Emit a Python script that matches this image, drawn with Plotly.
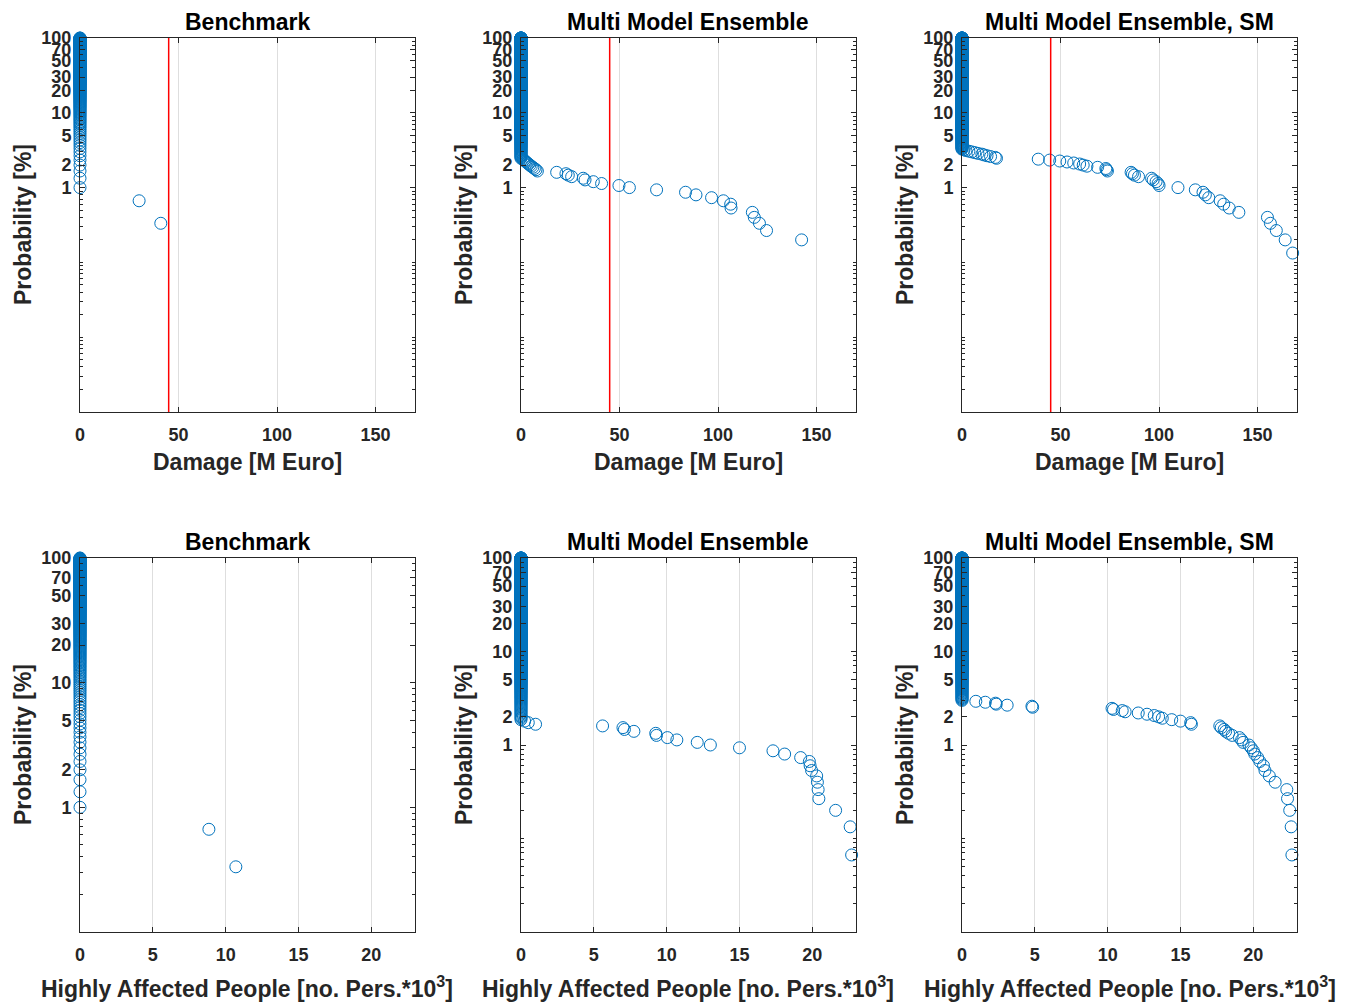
import plotly.graph_objects as go

FONT = "Liberation Sans, Arial, sans-serif"
BLUE = "#0072BD"
AXC = "#262626"
W, H = 1351, 1002

# ---- data -----------------------------------------------------------------
# number of simulated events per panel; exceedance probability = rank / N * 100
n_benchmark = 300
n_ensemble = 1500

# largest event values (descending); all other events are ~0
dmg_benchmark = [41.0, 30.0]
dmg_mme = [142.4, 124.6, 121.0, 118.4, 117.4, 106.6, 106.4, 102.7, 96.7, 88.8,
           83.5, 68.8, 55.0, 49.7, 40.9, 36.7, 32.5, 31.6, 25.7, 24.0, 22.8,
           18.1, 8.3, 7.6, 6.8, 6.0, 5.2, 4.5, 3.8, 3.2, 2.6, 2.0, 1.5, 1.0]
dmg_mme_sm = [167.8, 164.0, 159.5, 156.5, 155.0, 140.5, 135.6, 132.8, 131.0,
              125.2, 123.5, 122.3, 118.4, 109.6, 100.0, 99.5, 98.5, 97.0, 96.2,
              89.6, 87.5, 86.5, 85.8, 73.8, 73.4, 73.0, 68.8, 63.4, 61.5, 59.7,
              56.7, 53.3, 49.6, 44.5, 38.7, 17.5, 16.9, 14.5, 12.7, 11.2, 10.1,
              8.1, 6.5, 5.0, 3.5, 2.0, 1.0]
hap_benchmark = [10.7, 8.85]
hap_mme = [22.7, 22.6, 21.6, 20.45, 20.4, 20.35, 20.3, 19.95, 19.85, 19.8, 19.2,
           18.1, 17.3, 15.0, 13.0, 12.1, 10.7, 10.05, 9.3, 9.25, 7.75, 7.1, 7.0,
           5.6, 1.0, 0.5, 0.25]
hap_mme_sm = [22.65, 22.6, 22.5, 22.35, 22.3, 21.5, 21.1, 20.8, 20.7, 20.45,
              20.3, 20.1, 20.0, 19.85, 19.7, 19.3, 19.2, 19.05, 18.55, 18.3,
              18.1, 18.0, 17.8, 17.7, 15.75, 15.7, 15.0, 14.4, 13.75, 13.5,
              13.2, 12.7, 12.1, 11.2, 11.0, 10.4, 10.3, 4.85, 4.8, 3.1, 2.35,
              2.3, 1.6, 0.95]
# events larger than the x-axis limit (not visible, but they occupy ranks)
offscale_dmg = [0, 2, 1]
offscale_hap = [0, 0, 0]

titles = ["Benchmark", "Multi Model Ensemble", "Multi Model Ensemble, SM"]
damage_threshold = 45
y_tickvals = [1, 2, 5, 10, 20, 30, 50, 70, 100]
y_ticktext = ["1", "2", "5", "10", "20", "30", "50", "70", "100"]
xlabel_top = "Damage [M Euro]"
xlabel_bot = "Highly Affected People [no. Pers.*10<sup>3</sup>]"
ylabel = "Probability [%]"

# ---- layout geometry (pixels) -----------------------------------------------
col_px = [(80, 415), (521, 856), (962, 1297)]
row_px = [(38, 412), (558, 932)]

def px_x(v):
    return v / W

def px_y(v):
    return 1 - v / H

fig = go.Figure()

panels = []
for c in range(3):
    panels.append(dict(row=0, col=c, vals=[dmg_benchmark, dmg_mme, dmg_mme_sm][c],
                       n=[n_benchmark, n_ensemble, n_ensemble][c], off=offscale_dmg[c],
                       xr=[0, 170], xd=50, ylo=-3))
for c in range(3):
    panels.append(dict(row=1, col=c, vals=[hap_benchmark, hap_mme, hap_mme_sm][c],
                       n=[n_benchmark, n_ensemble, n_ensemble][c], off=offscale_hap[c],
                       xr=[0, 23], xd=5, ylo=[-1, -2, -2][c]))

layout = {}
annotations = []
shapes = []
for i, p in enumerate(panels):
    k = i + 1
    sfx = "" if k == 1 else str(k)
    xs = list(p["vals"]) + [0.0] * (p["n"] - p["off"] - len(p["vals"]))
    probs = [100.0 * (p["off"] + j + 1) / p["n"] for j in range(len(xs))]
    fig.add_trace(go.Scatter(
        x=xs, y=probs, mode="markers", xaxis=f"x{sfx}", yaxis=f"y{sfx}",
        marker=dict(symbol="circle-open", size=12, color=BLUE,
                    line=dict(width=1, color=BLUE)),
        cliponaxis=False, showlegend=False, hoverinfo="skip"))

    x0, x1 = col_px[p["col"]]
    y0, y1 = row_px[p["row"]]
    minor_vals = []
    for e in range(p["ylo"], 2):
        for m in range(1, 10):
            v = round(m * 10 ** e, 6)
            if v not in y_tickvals:
                minor_vals.append(v)
    tickfont = dict(family=FONT, size=18, color=AXC, weight="bold")
    layout[f"xaxis{sfx}"] = dict(
        domain=[px_x(x0), px_x(x1)], anchor=f"y{sfx}", range=p["xr"],
        tickmode="linear", tick0=0, dtick=p["xd"], showgrid=True,
        gridcolor="#dedede", gridwidth=1, zeroline=False, showline=True,
        linecolor=AXC, linewidth=1, mirror="allticks", ticks="inside",
        ticklen=5, tickcolor=AXC, tickfont=tickfont, ticklabelstandoff=6,
        automargin=False)
    layout[f"yaxis{sfx}"] = dict(
        domain=[px_y(y1), px_y(y0)], anchor=f"x{sfx}", type="log",
        range=[p["ylo"], 2.0000001], tickmode="array", tickvals=y_tickvals,
        ticktext=y_ticktext, showgrid=False, zeroline=False, showline=True,
        linecolor=AXC, linewidth=1, mirror="allticks", ticks="inside",
        ticklen=5, tickcolor=AXC, tickfont=tickfont, ticklabelstandoff=4,
        automargin=False,
        minor=dict(tickmode="array", tickvals=minor_vals, ticks="inside",
                   ticklen=3, tickcolor=AXC, showgrid=False))

    cx = (x0 + x1) / 2
    annotations.append(dict(
        text=f"<b>{titles[p['col']]}</b>", xref="paper", yref="paper",
        x=px_x(cx), y=px_y(y0 - 16), xanchor="center", yanchor="middle",
        showarrow=False, font=dict(family=FONT, size=23, color="#000000")))
    annotations.append(dict(
        text=f"<b>{xlabel_top if p['row'] == 0 else xlabel_bot}</b>",
        xref="paper", yref="paper", x=px_x(cx),
        y=px_y(y1 + (50 if p['row'] == 0 else 55)), xanchor="center",
        yanchor="middle", showarrow=False,
        font=dict(family=FONT, size=23, color=AXC)))
    annotations.append(dict(
        text=f"<b>{ylabel}</b>", xref="paper", yref="paper",
        x=px_x(x0 - 57), y=px_y((y0 + y1) / 2), xanchor="center",
        yanchor="middle", textangle=-90, showarrow=False,
        font=dict(family=FONT, size=23, color=AXC)))

    if p["row"] == 0:
        shapes.append(dict(type="line", xref=f"x{sfx}", yref=f"y{sfx} domain",
                           x0=damage_threshold, x1=damage_threshold, y0=0, y1=1,
                           line=dict(color="#FF0000", width=1.5), layer="above"))

fig.update_layout(
    width=W, height=H,
    margin=dict(l=0, r=0, t=0, b=0, pad=0, autoexpand=False),
    paper_bgcolor="white", plot_bgcolor="white",
    annotations=annotations, shapes=shapes, showlegend=False,
    font=dict(family=FONT, color=AXC), **layout)

fig.write_html("out.html", config={"displayModeBar": False},
               post_script="document.body.style.margin='0';")
